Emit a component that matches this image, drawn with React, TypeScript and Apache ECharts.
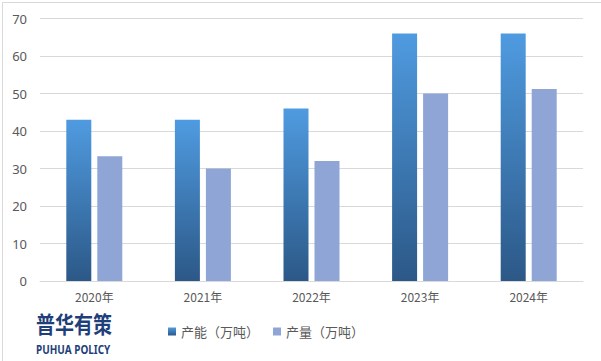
import React, { useEffect, useRef } from "react";
import * as echarts from "echarts";

const categories = ["2020年", "2021年", "2022年", "2023年", "2024年"];
const capacity = [43, 43, 46, 66, 66];
const production = [33.3, 30, 32, 50, 51.2];
const seriesNames = ["产能（万吨）", "产量（万吨）"];

export default function App() {
  const ref = useRef<HTMLDivElement>(null);
  useEffect(() => {
    const chart = echarts.init(ref.current!, null, { renderer: "svg" });
    chart.setOption({
      animation: false,
      backgroundColor: "#ffffff",
      grid: { left: 40, right: 18, top: 18.5, bottom: 80 },
      xAxis: {
        type: "category",
        data: categories,
        axisLine: { lineStyle: { color: "#d9d9d9" } },
        axisTick: { show: false },
        axisLabel: { color: "#595959", fontSize: 12, margin: 9, fontFamily: "Noto Sans CJK SC" },
      },
      yAxis: {
        type: "value",
        min: 0,
        max: 70,
        interval: 10,
        axisLine: { show: false },
        axisTick: { show: false },
        splitLine: { lineStyle: { color: "#d9d9d9" } },
        axisLabel: { color: "#595959", fontSize: 13, margin: 13, fontFamily: "Noto Sans" },
      },
      legend: {
        bottom: 18,
        left: 163,
        itemWidth: 8,
        itemHeight: 8,
        itemGap: 14,
        icon: "rect",
        textStyle: { color: "#595959", fontSize: 13, fontFamily: "Noto Sans CJK SC" },
        data: seriesNames,
      },
      series: [
        {
          name: seriesNames[0],
          type: "bar",
          data: capacity,
          barWidth: 25,
          barGap: "24%",
          itemStyle: {
            color: new echarts.graphic.LinearGradient(0, 0, 0, 1, [
              { offset: 0, color: "#4f9be0" },
              { offset: 1, color: "#2c5887" },
            ]),
          },
        },
        {
          name: seriesNames[1],
          type: "bar",
          data: production,
          barWidth: 25,
          itemStyle: { color: "#8ea5d6" },
        },
      ],
      graphic: [
        {
          type: "rect",
          left: 0,
          top: 0,
          shape: { x: 0.5, y: 0.5, width: 599, height: 359 },
          style: { fill: "none", stroke: "#d9d9d9", lineWidth: 1 },
          silent: true,
        },
        {
          type: "text",
          x: 36,
          y: 312,
          scaleY: 1.2,
          style: {
            text: "普华有策",
            fill: "#1f3f7a",
            font: "bold 19px 'Noto Sans CJK SC'",
          },
        },
        {
          type: "text",
          x: 36,
          y: 343,
          scaleX: 0.83,
          scaleY: 1.05,
          style: {
            text: "PUHUA POLICY",
            fill: "#1f3f7a",
            font: "bold 12px 'Noto Sans'",
          },
        },
      ],
    });
    return () => chart.dispose();
  }, []);
  return (
    <div
      ref={ref}
      style={{ position: "absolute", left: 0, top: 0, width: 601, height: 361 }}
    />
  );
}
